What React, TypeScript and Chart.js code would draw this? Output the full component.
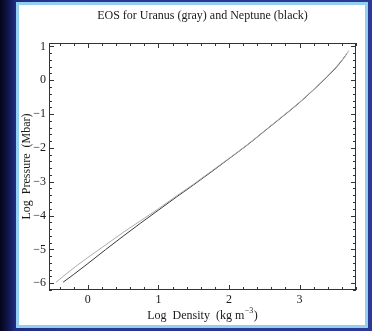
import React, { useEffect, useRef } from "react";
import { Chart, registerables } from "chart.js";

Chart.register(...registerables);

const TITLE = "EOS for Uranus (gray) and Neptune (black)";
const X_TITLE = "Log  Density  (kg m";
const X_TITLE_SUP = "\u22123";
const X_TITLE_END = ")";
const Y_TITLE = "Log  Pressure  (Mbar)";

const X_TICKS = [0, 1, 2, 3];
const Y_TICKS = [-6, -5, -4, -3, -2, -1, 0, 1];
const X_MIN = -0.55;
const X_MAX = 3.8;
const Y_MIN = -6.2;
const Y_MAX = 1.1;

const URANUS_X = [-0.45, -0.25, 0, 0.25, 0.5, 0.75, 1, 1.25, 1.5, 1.75, 2, 2.25, 2.5, 2.75, 3, 3.2, 3.4, 3.55, 3.63, 3.7];
const URANUS_Y = [-5.97, -5.63, -5.24, -4.87, -4.5, -4.15, -3.8, -3.43, -3.07, -2.69, -2.31, -1.92, -1.5, -1.08, -0.65, -0.27, 0.13, 0.47, 0.67, 0.88];

const NEPTUNE_X = [-0.35, -0.2, 0, 0.25, 0.5, 0.75, 1, 1.25, 1.5, 1.75, 2, 2.25, 2.5, 2.75, 3, 3.2, 3.4, 3.55, 3.67];
const NEPTUNE_Y = [-5.97, -5.74, -5.42, -5.01, -4.61, -4.22, -3.84, -3.46, -3.09, -2.71, -2.32, -1.93, -1.51, -1.09, -0.66, -0.28, 0.12, 0.45, 0.78];

const FONT = "'Liberation Serif', 'Times New Roman', serif";
const TEXT = "#1a1a1a";
const AXIS = "#333333";

const fmt = (v: number) => (v < 0 ? "\u2212" + Math.abs(v) : String(v));

const framePlugin = {
  id: "framePlugin",
  afterDatasetsDraw(chart: any) {
    const { ctx, chartArea } = chart;
    const { left, right, top, bottom } = chartArea;
    const xs = chart.scales.x;
    const ys = chart.scales.y;
    ctx.save();
    ctx.strokeStyle = AXIS;
    ctx.lineWidth = 1;
    ctx.strokeRect(Math.round(left) + 0.5, Math.round(top) + 0.5, Math.round(right - left) - 1, Math.round(bottom - top) - 1);
    const step = 0.2;
    ctx.beginPath();
    for (let i = Math.ceil(X_MIN / step); i * step <= X_MAX + 1e-9; i++) {
      const v = i * step;
      const major = Math.abs(v - Math.round(v)) < 1e-6;
      const len = major ? 5 : 3;
      const px = Math.round(xs.getPixelForValue(v)) + 0.5;
      ctx.moveTo(px, bottom);
      ctx.lineTo(px, bottom - len);
      ctx.moveTo(px, top);
      ctx.lineTo(px, top + len);
    }
    for (let i = Math.ceil(Y_MIN / step); i * step <= Y_MAX + 1e-9; i++) {
      const v = i * step;
      const major = Math.abs(v - Math.round(v)) < 1e-6;
      const len = major ? 5 : 3;
      const py = Math.round(ys.getPixelForValue(v)) + 0.5;
      ctx.moveTo(left, py);
      ctx.lineTo(left + len, py);
      ctx.moveTo(right, py);
      ctx.lineTo(right - len, py);
    }
    ctx.stroke();

    // x-axis title with superscript
    const cx = (left + right) / 2;
    const ty = 311;
    ctx.fillStyle = TEXT;
    ctx.textBaseline = "middle";
    ctx.textAlign = "left";
    ctx.font = `12px ${FONT}`;
    const w1 = ctx.measureText(X_TITLE).width;
    const w3 = ctx.measureText(X_TITLE_END).width;
    ctx.font = `8px ${FONT}`;
    const w2 = ctx.measureText(X_TITLE_SUP).width;
    let sx = cx - (w1 + w2 + w3 + 1) / 2;
    ctx.font = `12px ${FONT}`;
    ctx.fillText(X_TITLE, sx, ty);
    sx += w1 + 0.5;
    ctx.font = `8px ${FONT}`;
    ctx.fillText(X_TITLE_SUP, sx, ty - 5);
    sx += w2 + 0.5;
    ctx.font = `12px ${FONT}`;
    ctx.fillText(X_TITLE_END, sx, ty);
    ctx.restore();
  },
};

export default function App() {
  const ref = useRef<HTMLCanvasElement | null>(null);

  useEffect(() => {
    if (!ref.current) return;
    const chart = new Chart(ref.current, {
      type: "line",
      data: {
        datasets: [
          {
            label: "Uranus",
            data: URANUS_X.map((x, i) => ({ x, y: URANUS_Y[i] })),
            borderColor: "#ababab",
            borderWidth: 1,
            pointRadius: 0,
            cubicInterpolationMode: "monotone",
          },
          {
            label: "Neptune",
            data: NEPTUNE_X.map((x, i) => ({ x, y: NEPTUNE_Y[i] })),
            borderColor: "#383838",
            borderWidth: 1,
            pointRadius: 0,
            cubicInterpolationMode: "monotone",
          },
        ],
      },
      options: {
        animation: false,
        responsive: false,
        devicePixelRatio: 1,
        layout: { padding: { left: 0, right: 9, top: 0, bottom: 0 } },
        plugins: {
          legend: { display: false },
          tooltip: { enabled: false },
          title: {
            display: true,
            text: TITLE,
            fullSize: false,
            color: TEXT,
            font: { family: FONT, size: 12, weight: "normal" },
            padding: { top: 4, bottom: 19.6 },
          },
        },
        scales: {
          x: {
            type: "linear",
            min: X_MIN,
            max: X_MAX,
            grid: { display: false, drawTicks: false },
            border: { display: false },
            afterBuildTicks: (s: any) => {
              s.ticks = X_TICKS.map((v) => ({ value: v }));
            },
            afterFit: (s: any) => {
              s.height = 35;
            },
            ticks: {
              color: TEXT,
              padding: 3,
              maxRotation: 0,
              autoSkip: false,
              font: { family: FONT, size: 12 },
              callback: (v: any) => fmt(Number(v)),
            },
          },
          y: {
            type: "linear",
            min: Y_MIN,
            max: Y_MAX,
            grid: { display: false, drawTicks: false },
            border: { display: false },
            afterBuildTicks: (s: any) => {
              s.ticks = Y_TICKS.map((v) => ({ value: v }));
            },
            afterFit: (s: any) => {
              s.width = 30;
            },
            title: {
              display: true,
              text: Y_TITLE,
              color: TEXT,
              font: { family: FONT, size: 12 },
              padding: { top: 1, bottom: 0 },
            },
            ticks: {
              color: TEXT,
              padding: 3,
              autoSkip: false,
              font: { family: FONT, size: 12 },
              callback: (v: any) => fmt(Number(v)),
            },
          },
        },
      },
      plugins: [framePlugin],
    } as any);
    return () => chart.destroy();
  }, []);

  return (
    <div
      style={{
        position: "relative",
        width: 372,
        height: 331,
        overflow: "hidden",
        background:
          "linear-gradient(90deg, #04051a 0px, #0e1345 7px, #202c80 15px, #28378f 60px, #2a3a95 100%)",
      }}
    >
      <style>{"body{margin:0}"}</style>
      <div
        style={{
          position: "absolute",
          left: 16,
          top: 2,
          width: 346,
          height: 320,
          border: "3px solid #94cff2",
          background: "#ffffff",
        }}
      >
        <canvas ref={ref} width={346} height={320} style={{ display: "block" }} />
      </div>
    </div>
  );
}
